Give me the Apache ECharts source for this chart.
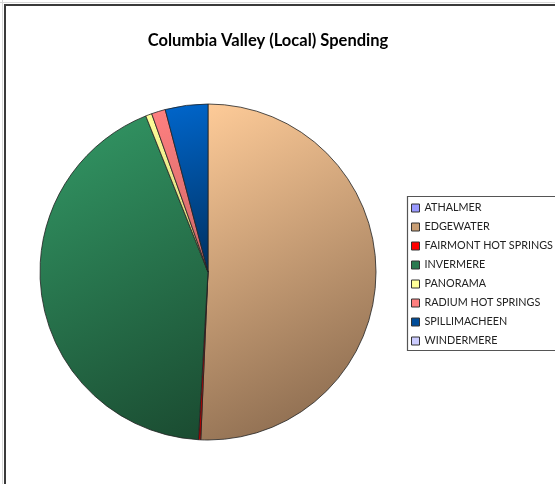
<!DOCTYPE html>
<html>
<head>
<meta charset="utf-8">
<script src="https://cdn.jsdelivr.net/npm/echarts@6/dist/echarts.min.js"></script>
<style>html,body{margin:0;padding:0;background:#fff}#c{width:555px;height:484px}</style>
</head>
<body>
<div id="c"></div>
<script>
const titleText = 'Columbia Valley (Local) Spending';
const categories = ['ATHALMER','EDGEWATER','FAIRMONT HOT SPRINGS','INVERMERE','PANORAMA','RADIUM HOT SPRINGS','SPILLIMACHEEN','WINDERMERE'];
const values = [0, 50.7, 0.22, 43.06, 0.6, 1.34, 4.1, 0];
const baseColors = ['#9999FF','#FFCC99','#FF0000','#339966','#FFFF99','#FF8080','#0066CC','#CCCCFF'];
const darkColors = ['#5C5C99','#806248','#AA0000','#1A4A30','#CCCC77','#CC6666','#00305F','#9999BB'];

const chart = echarts.init(document.getElementById('c'), null, {renderer:'canvas'});
function grad(i){
  return new echarts.graphic.LinearGradient(0,0,1,1,[{offset:0,color:baseColors[i]},{offset:1,color:darkColors[i]}]);
}
const data = categories.map((n,i)=>({
  name:n, value:values[i],
  itemStyle:{color:grad(i), borderColor:'#222', borderWidth: values[i]>0?0.8:0}
}));
const legendData = categories.map((n,i)=>({name:n, itemStyle:{color: i===1?'#C89E74':(i===3?'#2A7A50':(i===6?'#004C99':baseColors[i])), borderColor:'#333', borderWidth:1}}));
chart.setOption({
  animation:false,
  backgroundColor:'#fff',
  title:{text:titleText, left:263, top:27, textAlign:'center',
    textStyle:{fontFamily:'Lato', fontWeight:'bold', fontSize:16.5, color:'#000'}},
  legend:{orient:'vertical', left:406, top:197, itemWidth:8, itemHeight:8, itemGap:7,
    icon:'rect', data:legendData,
    textStyle:{fontFamily:'Lato', fontSize:10.8, color:'#222', lineHeight:12},
    selectedMode:false},
  graphic:[
    {type:'rect', shape:{x:5,y:5,width:600,height:600}, style:{fill:'none', stroke:'#3a3a3a', lineWidth:2}, z:-1},
    {type:'line', shape:{x1:2.5,y1:0,x2:2.5,y2:484}, style:{stroke:'#d8d8d8', lineWidth:1}, z:-1},
    {type:'line', shape:{x1:0,y1:2.5,x2:555,y2:2.5}, style:{stroke:'#d8d8d8', lineWidth:1}, z:-1},
    {type:'rect', shape:{x:407.5,y:196.5,width:200,height:154}, style:{fill:'#fff', stroke:'#555', lineWidth:1.2}, z:0}
  ],
  series:[{
    type:'pie', center:[208,272], radius:168, startAngle:90, clockwise:true,
    label:{show:false}, labelLine:{show:false}, emphasis:{disabled:true},
    minAngle:0, avoidLabelOverlap:false,
    data:data
  }]
});
</script>
</body>
</html>
